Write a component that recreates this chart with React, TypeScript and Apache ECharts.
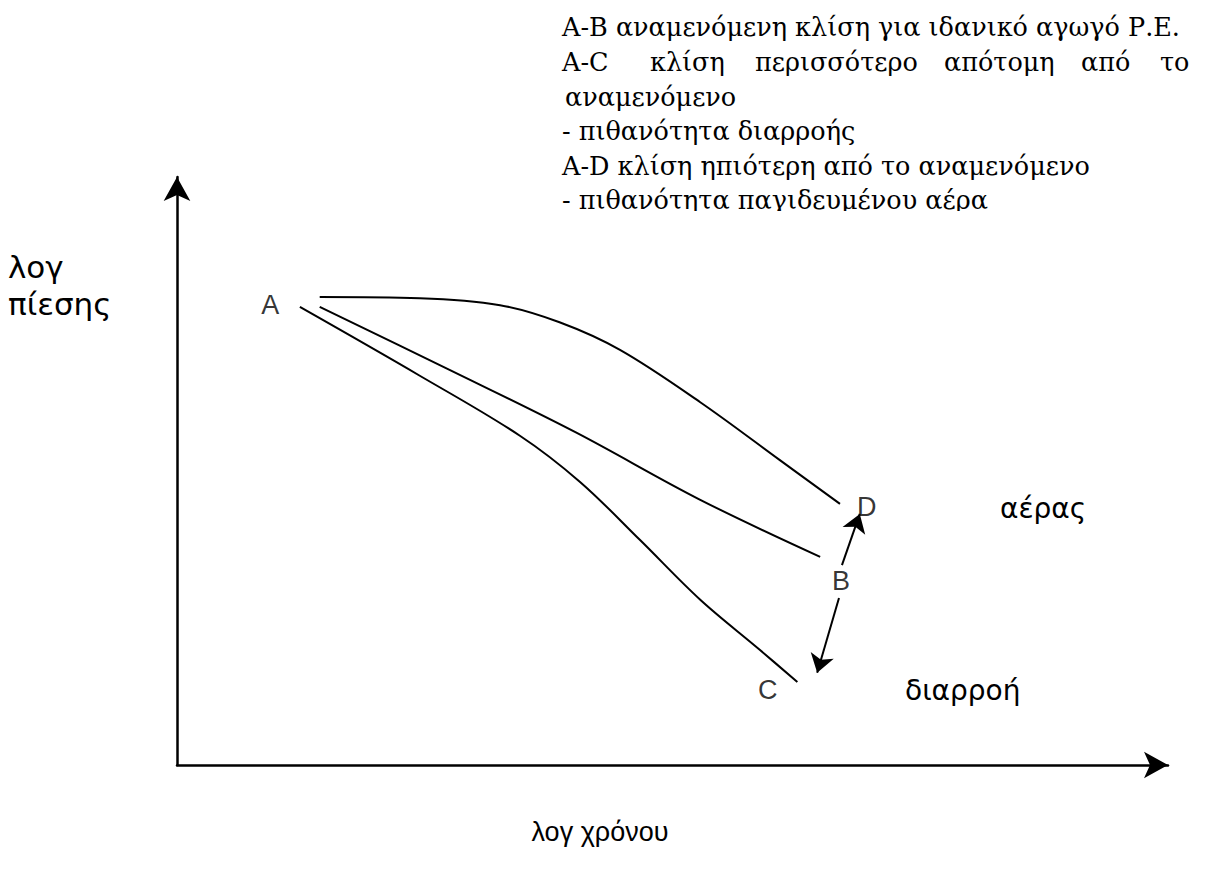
import React, { useEffect, useRef } from "react";
import * as echarts from "echarts";

// Curves in (log time, log pressure) units on a 0–100 scale
const curveD: [number, number][] = [
  [14.4, 79.6], [24.5, 79.4], [32.6, 78.2], [38.6, 75.3], [44.7, 70.6],
  [52.8, 61.7], [60.8, 51.9], [66.9, 44.4],
];
const curveB: [number, number][] = [
  [14.4, 77.9], [27.5, 67.2], [40.2, 56.6], [52.8, 45.1], [64.9, 35.4],
];
const curveC: [number, number][] = [
  [12.4, 77.9], [24.5, 66.2], [34.6, 56.0], [40.7, 48.1], [46.7, 38.3],
  [52.8, 28.1], [58.8, 19.6], [62.6, 14.1],
];
const arrowBD: [number, number][] = [[67.1, 34.0], [68.9, 42.7]];
const arrowBC: [number, number][] = [[66.8, 28.4], [64.6, 15.7]];
const pointLabels = ["A", "B", "C", "D"];
const pointPositions: [number, number][] = [[9.4, 78.2], [67.0, 31.3], [59.6, 12.8], [69.6, 43.9]];

const noteLines = [
  "A-B αναμενόμενη κλίση για ιδανικό αγωγό Ρ.Ε.",
  "A-C κλίση περισσότερο απότομη από το",
  "αναμενόμενο",
  "- πιθανότητα διαρροής",
  "A-D κλίση ηπιότερη από το αναμενόμενο",
  "- πιθανότητα παγιδευμένου αέρα",
];
const yAxisTitle = ["λογ", "πίεσης"];
const xAxisTitle = "λογ χρόνου";
const sideLabels = ["αέρας", "διαρροή"];

export default function App() {
  const ref = useRef<HTMLDivElement>(null);
  useEffect(() => {
    if (!ref.current) return;
    const chart = echarts.init(ref.current, null, { renderer: "svg" });
    const serifStyle = { fontSize: 25.5, fontFamily: "DejaVu Serif", fill: "#000", textVerticalAlign: "middle" };
    const sans = "27px 'Liberation Sans', Arial, sans-serif";
    const wide = "28px 'DejaVu Sans', sans-serif";
    const yTitle = "31px 'DejaVu Sans', sans-serif";
    const lineStyle = { color: "#000", width: 2 };
    const line2Words = noteLines[1].split(" ");
    const line2X = [562, 650, 755, 944, 1081, 1160];
    const noteY = [27, 62, 97, 131, 166, 200];
    const graphic: any[] = [];
    noteLines.forEach((t, i) => {
      if (i === 1) {
        line2Words.forEach((w, j) => {
          graphic.push({ type: "text", x: line2X[j], y: noteY[i], style: { ...serifStyle, text: w } });
        });
      } else {
        graphic.push({ type: "text", x: i === 2 ? 565 : 562, y: noteY[i], style: { ...serifStyle, text: t } });
      }
    });
    graphic.push({ type: "rect", shape: { x: 555, y: 211, width: 480, height: 16 }, style: { fill: "#fff" }, z: 100 });
    graphic.push({ type: "text", x: 8, y: 267, style: { text: yAxisTitle[0], font: yTitle, fill: "#000", textVerticalAlign: "middle" } });
    graphic.push({ type: "text", x: 8, y: 304, style: { text: yAxisTitle[1], font: yTitle, fill: "#000", textVerticalAlign: "middle" } });
    graphic.push({ type: "text", x: 600, y: 832, style: { text: xAxisTitle, font: sans, fill: "#000", textAlign: "center", textVerticalAlign: "middle" } });
    graphic.push({ type: "text", x: 1000, y: 508, style: { text: sideLabels[0], font: wide, fill: "#000", textVerticalAlign: "middle" } });
    graphic.push({ type: "text", x: 905, y: 690, style: { text: sideLabels[1], font: wide, fill: "#000", textVerticalAlign: "middle" } });

    chart.setOption({
      animation: false,
      grid: { left: 177, top: 177, right: 59, bottom: 116 },
      xAxis: {
        type: "value", min: 0, max: 100,
        axisLine: { lineStyle: { color: "#000", width: 2.5 }, symbol: ["none", "arrow"], symbolSize: [20, 24] },
        axisTick: { show: false }, axisLabel: { show: false }, splitLine: { show: false },
      },
      yAxis: {
        type: "value", min: 0, max: 100,
        axisLine: { show: true, lineStyle: { color: "#000", width: 2.5 }, symbol: ["none", "arrow"], symbolSize: [20, 24] },
        axisTick: { show: false }, axisLabel: { show: false }, splitLine: { show: false },
      },
      graphic,
      series: [
        { type: "line", data: curveD, smooth: 0.35, showSymbol: false, lineStyle },
        { type: "line", data: curveB, smooth: 0.35, showSymbol: false, lineStyle },
        { type: "line", data: curveC, smooth: 0.35, showSymbol: false, lineStyle },
        {
          type: "lines", coordinateSystem: "cartesian2d", symbol: ["none", "arrow"], symbolSize: 18,
          lineStyle: { color: "#000", width: 2, opacity: 1 },
          data: [{ coords: arrowBD }, { coords: arrowBC }],
        },
        {
          type: "scatter", symbolSize: 0,
          data: pointPositions.map((p, i) => ({ value: p, name: pointLabels[i] })),
          label: { show: true, position: "inside", formatter: "{b}", color: "#000", fontSize: 27, fontFamily: "'Liberation Sans', Arial, sans-serif" },
        },
      ],
    });
    return () => chart.dispose();
  }, []);
  return <div ref={ref} style={{ position: "fixed", left: 0, top: 0, width: 1227, height: 881, background: "#fff" }} />;
}
